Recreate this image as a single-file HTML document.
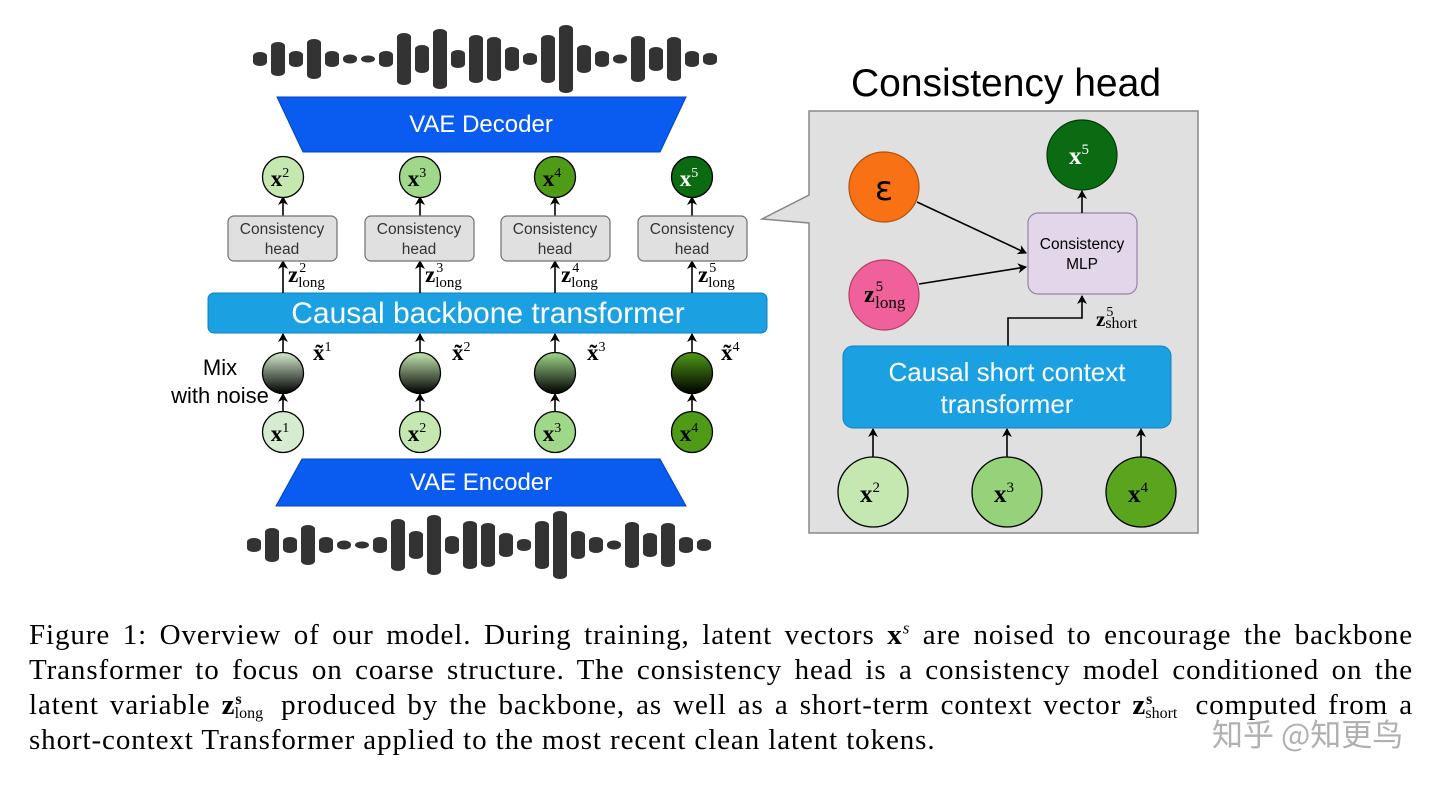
<!DOCTYPE html>
<html><head><meta charset="utf-8">
<style>
html,body{margin:0;padding:0;background:#fff;}
body{width:1440px;height:787px;position:relative;overflow:hidden;}
svg{position:absolute;left:0;top:0;}
.cap{position:absolute;left:29px;width:1384px;font-family:"Liberation Serif",serif;font-size:29px;letter-spacing:0.9px;color:#000;white-space:nowrap;line-height:35px;}
.j{text-align:justify;text-align-last:justify;white-space:normal;}
.wm{position:absolute;left:1212px;top:710px;font-family:"Noto Sans CJK SC","WenQuanYi Zen Hei",sans-serif;font-size:31px;color:rgba(150,150,150,0.75);}
</style></head><body>
<svg width="1440" height="787" viewBox="0 0 1440 787" font-family="Liberation Sans, sans-serif">
<defs>
<marker id="ar" markerWidth="10" markerHeight="10" refX="8" refY="5" orient="auto" markerUnits="userSpaceOnUse">
<path d="M0,0 L9,5 L0,10 L2.5,5 z" fill="#000"/></marker>
<linearGradient id="g1" x1="0" y1="0" x2="0" y2="1"><stop offset="0" stop-color="#d5ecd0"/><stop offset="1" stop-color="#000"/></linearGradient>
<linearGradient id="g2" x1="0" y1="0" x2="0" y2="1"><stop offset="0" stop-color="#c5e8b0"/><stop offset="1" stop-color="#000"/></linearGradient>
<linearGradient id="g3" x1="0" y1="0" x2="0" y2="1"><stop offset="0" stop-color="#a0d88a"/><stop offset="1" stop-color="#000"/></linearGradient>
<linearGradient id="g4" x1="0" y1="0" x2="0" y2="1"><stop offset="0" stop-color="#4f9a16"/><stop offset="1" stop-color="#000"/></linearGradient>
<g id="wave" fill="#333">
<rect x="253" y="52" width="14" height="14" rx="7" ry="4"/>
<rect x="271" y="42" width="14" height="34" rx="7" ry="4"/>
<rect x="289" y="51" width="14" height="16" rx="7" ry="4"/>
<rect x="307" y="39" width="14" height="40" rx="7" ry="4"/>
<rect x="325" y="51" width="14" height="16" rx="7" ry="4"/>
<rect x="343" y="54.5" width="14" height="9" rx="7" ry="4"/>
<rect x="361" y="55.5" width="14" height="7" rx="7" ry="3.5"/>
<rect x="379" y="51" width="14" height="16" rx="7" ry="4"/>
<rect x="397" y="33" width="14" height="52" rx="7" ry="4"/>
<rect x="415" y="45" width="14" height="28" rx="7" ry="4"/>
<rect x="433" y="29" width="14" height="60" rx="7" ry="4"/>
<rect x="451" y="50" width="14" height="18" rx="7" ry="4"/>
<rect x="469" y="35" width="14" height="48" rx="7" ry="4"/>
<rect x="487" y="37" width="14" height="44" rx="7" ry="4"/>
<rect x="505" y="47" width="14" height="24" rx="7" ry="4"/>
<rect x="523" y="53" width="14" height="12" rx="7" ry="4"/>
<rect x="541" y="35" width="14" height="48" rx="7" ry="4"/>
<rect x="559" y="25" width="14" height="68" rx="7" ry="4"/>
<rect x="577" y="45" width="14" height="28" rx="7" ry="4"/>
<rect x="595" y="51" width="14" height="16" rx="7" ry="4"/>
<rect x="613" y="54.5" width="14" height="9" rx="7" ry="4"/>
<rect x="631" y="36" width="14" height="46" rx="7" ry="4"/>
<rect x="649" y="47" width="14" height="24" rx="7" ry="4"/>
<rect x="667" y="37" width="14" height="44" rx="7" ry="4"/>
<rect x="685" y="51" width="14" height="16" rx="7" ry="4"/>
<rect x="703" y="53" width="14" height="12" rx="7" ry="4"/>
</g>
</defs>
<use href="#wave"/>
<use href="#wave" transform="translate(-6,486)"/>

<polygon points="277,97 686,97 660,152 303,152" fill="#0a5cf0" stroke="#0040c0" stroke-width="1"/>
<text x="481" y="132" font-size="24" fill="#fff" text-anchor="middle">VAE Decoder</text>
<polygon points="302,459 660,459 686,506 276,506" fill="#0a5cf0" stroke="#0040c0" stroke-width="1"/>
<text x="481" y="490" font-size="24" fill="#fff" text-anchor="middle">VAE Encoder</text>

<rect x="208" y="293" width="559" height="40" rx="6" fill="#1ba1e2" stroke="#1080c0"/>
<text x="488" y="323" font-size="30" fill="#fff" text-anchor="middle">Causal backbone transformer</text>

<g stroke="#000" stroke-width="1.6" marker-end="url(#ar)">
<line x1="283" y1="216" x2="283" y2="197"/><line x1="420" y1="216" x2="420" y2="197"/><line x1="555" y1="216" x2="555" y2="197"/><line x1="692" y1="216" x2="692" y2="197"/>
<line x1="283" y1="293" x2="283" y2="261"/><line x1="420" y1="293" x2="420" y2="261"/><line x1="555" y1="293" x2="555" y2="261"/><line x1="692" y1="293" x2="692" y2="261"/>
<line x1="283" y1="352" x2="283" y2="334"/><line x1="420" y1="352" x2="420" y2="334"/><line x1="555" y1="352" x2="555" y2="334"/><line x1="692" y1="352" x2="692" y2="334"/>
<line x1="283" y1="411" x2="283" y2="394"/><line x1="420" y1="411" x2="420" y2="394"/><line x1="555" y1="411" x2="555" y2="394"/><line x1="692" y1="411" x2="692" y2="394"/>
</g>

<g stroke="#000" stroke-width="1.3">
<circle cx="283" cy="177" r="20.5" fill="#c5e8b0"/>
<circle cx="420" cy="177" r="20.5" fill="#a0d88a"/>
<circle cx="555" cy="177" r="20.5" fill="#4f9a16"/>
<circle cx="692" cy="177" r="20.5" fill="#0b6b12"/>
<circle cx="283" cy="373" r="20.5" fill="url(#g1)"/>
<circle cx="420" cy="373" r="20.5" fill="url(#g2)"/>
<circle cx="555" cy="373" r="20.5" fill="url(#g3)"/>
<circle cx="692" cy="373" r="20.5" fill="url(#g4)"/>
<circle cx="283" cy="432" r="20.5" fill="#d5ecd0"/>
<circle cx="420" cy="432" r="20.5" fill="#c5e8b0"/>
<circle cx="555" cy="432" r="20.5" fill="#a0d88a"/>
<circle cx="692" cy="432" r="20.5" fill="#4f9a16"/>
</g>
<g font-family="Liberation Serif, serif" font-weight="bold" font-size="23" text-anchor="middle">
<text x="280" y="186">x<tspan font-size="14" font-weight="normal" dy="-9">2</tspan></text>
<text x="417" y="186">x<tspan font-size="14" font-weight="normal" dy="-9">3</tspan></text>
<text x="552" y="186">x<tspan font-size="14" font-weight="normal" dy="-9">4</tspan></text>
<text x="689" y="186" fill="#fff">x<tspan font-size="14" font-weight="normal" dy="-9">5</tspan></text>
<text x="280" y="441">x<tspan font-size="14" font-weight="normal" dy="-9">1</tspan></text>
<text x="417" y="441">x<tspan font-size="14" font-weight="normal" dy="-9">2</tspan></text>
<text x="552" y="441">x<tspan font-size="14" font-weight="normal" dy="-9">3</tspan></text>
<text x="689" y="441">x<tspan font-size="14" font-weight="normal" dy="-9">4</tspan></text>
</g>
<g font-family="Liberation Serif, serif" font-size="23">
<text x="313" y="360" font-weight="bold">x̃<tspan font-size="14" font-weight="normal" dy="-9">1</tspan></text>
<text x="452" y="360" font-weight="bold">x̃<tspan font-size="14" font-weight="normal" dy="-9">2</tspan></text>
<text x="587" y="360" font-weight="bold">x̃<tspan font-size="14" font-weight="normal" dy="-9">3</tspan></text>
<text x="721" y="360" font-weight="bold">x̃<tspan font-size="14" font-weight="normal" dy="-9">4</tspan></text>
<text x="288" y="282" font-weight="bold">z<tspan font-size="14" font-weight="normal" dx="1" dy="-10">2</tspan><tspan font-size="15" font-weight="normal" dx="-8" dy="15">long</tspan></text>
<text x="425" y="282" font-weight="bold">z<tspan font-size="14" font-weight="normal" dx="1" dy="-10">3</tspan><tspan font-size="15" font-weight="normal" dx="-8" dy="15">long</tspan></text>
<text x="561" y="282" font-weight="bold">z<tspan font-size="14" font-weight="normal" dx="1" dy="-10">4</tspan><tspan font-size="15" font-weight="normal" dx="-8" dy="15">long</tspan></text>
<text x="698" y="282" font-weight="bold">z<tspan font-size="14" font-weight="normal" dx="1" dy="-10">5</tspan><tspan font-size="15" font-weight="normal" dx="-8" dy="15">long</tspan></text>
</g>

<g fill="#e0e0e0" stroke="#707070" stroke-width="1.2">
<rect x="228" y="216" width="109" height="45" rx="6"/>
<rect x="365" y="216" width="109" height="45" rx="6"/>
<rect x="501" y="216" width="109" height="45" rx="6"/>
<rect x="638" y="216" width="109" height="45" rx="6"/>
</g>
<g font-size="15.5" fill="#333" text-anchor="middle">
<text x="282" y="234">Consistency</text><text x="282" y="254">head</text>
<text x="419" y="234">Consistency</text><text x="419" y="254">head</text>
<text x="555" y="234">Consistency</text><text x="555" y="254">head</text>
<text x="692" y="234">Consistency</text><text x="692" y="254">head</text>
</g>
<text x="220" y="375" font-size="22" text-anchor="middle">Mix</text>
<text x="220" y="403" font-size="22" text-anchor="middle">with noise</text>

<text x="1006" y="96" font-size="39" text-anchor="middle">Consistency head</text>
<path d="M809,111 L1198,111 L1198,533 L809,533 L809,223 L762,219 L809,195 Z" fill="#e0e0e0" stroke="#888" stroke-width="1.5"/>
<circle cx="884" cy="187" r="35" fill="#f87114" stroke="#b0500a" stroke-width="1.2"/>
<text x="884" y="200" font-size="34" text-anchor="middle" font-family="DejaVu Sans, sans-serif">ε</text>
<circle cx="884" cy="295" r="35" fill="#f0609a" stroke="#b04060" stroke-width="1.2"/>
<text x="864" y="302" font-family="Liberation Serif, serif" font-size="24" font-weight="bold">z<tspan font-size="15" font-weight="normal" dx="1" dy="-11">5</tspan><tspan font-size="17" font-weight="normal" dx="-8" dy="17">long</tspan></text>
<circle cx="1082" cy="155" r="35" fill="#0b6b12" stroke="#043a08" stroke-width="1.2"/>
<text x="1079" y="164" font-family="Liberation Serif, serif" font-size="25" font-weight="bold" fill="#fff" text-anchor="middle">x<tspan font-size="15" font-weight="normal" dy="-10">5</tspan></text>
<rect x="1028" y="213" width="109" height="81" rx="10" fill="#e2d7ea" stroke="#9a80a8" stroke-width="1.2"/>
<text x="1082" y="249" font-size="15.5" text-anchor="middle">Consistency</text>
<text x="1082" y="269" font-size="15.5" text-anchor="middle">MLP</text>
<g stroke="#000" stroke-width="1.6" fill="none" marker-end="url(#ar)">
<line x1="917" y1="202" x2="1026" y2="253"/>
<line x1="919" y1="284" x2="1026" y2="267"/>
<line x1="1082" y1="213" x2="1082" y2="191"/>
<polyline points="1008,346 1008,318 1082,318 1082,296"/>
<line x1="873" y1="457" x2="873" y2="429"/>
<line x1="1007" y1="457" x2="1007" y2="429"/>
<line x1="1141" y1="457" x2="1141" y2="429"/>
</g>
<text x="1096" y="326" font-family="Liberation Serif, serif" font-size="21" font-weight="bold">z<tspan font-size="14" font-weight="normal" dx="1" dy="-10">5</tspan><tspan font-size="16" font-weight="normal" dx="-8" dy="12">short</tspan></text>
<rect x="843" y="346" width="328" height="82" rx="10" fill="#1ba1e2" stroke="#1080c0"/>
<text x="1007" y="381" font-size="26" fill="#fff" text-anchor="middle">Causal short context</text>
<text x="1007" y="413" font-size="26" fill="#fff" text-anchor="middle">transformer</text>
<g stroke="#000" stroke-width="1.3">
<circle cx="873" cy="492" r="35" fill="#c5e8b0"/>
<circle cx="1007" cy="492" r="35" fill="#96d27a"/>
<circle cx="1141" cy="492" r="35" fill="#5aa41e"/>
</g>
<g font-family="Liberation Serif, serif" font-weight="bold" font-size="25" text-anchor="middle">
<text x="870" y="502">x<tspan font-size="15" font-weight="normal" dy="-10">2</tspan></text>
<text x="1004" y="502">x<tspan font-size="15" font-weight="normal" dy="-10">3</tspan></text>
<text x="1138" y="502">x<tspan font-size="15" font-weight="normal" dy="-10">4</tspan></text>
</g>
</svg>

<div class="cap j" style="top:618px;">Figure 1: Overview of our model. During training, latent vectors <b>x</b><sup style="font-size:17px;font-style:italic;line-height:0">s</sup> are noised to encourage the backbone</div>
<div class="cap j" style="top:653px;">Transformer to focus on coarse structure. The consistency head is a consistency model conditioned on the</div>
<div class="cap j" style="top:688px;">latent variable <b>z</b><span style="display:inline-block;line-height:0;font-size:16px;vertical-align:-4px;letter-spacing:0;"><b style="position:relative;top:-14px;">s</b><span style="position:relative;left:-7px;">long</span></span> produced by the backbone, as well as a short-term context vector <b>z</b><span style="display:inline-block;line-height:0;font-size:16px;vertical-align:-4px;letter-spacing:0;"><b style="position:relative;top:-14px;">s</b><span style="position:relative;left:-7px;">short</span></span> computed from a</div>
<div class="cap" style="top:723px;">short-context Transformer applied to the most recent clean latent tokens.</div>
<div class="wm">知乎 @知更鸟</div>
</body></html>
